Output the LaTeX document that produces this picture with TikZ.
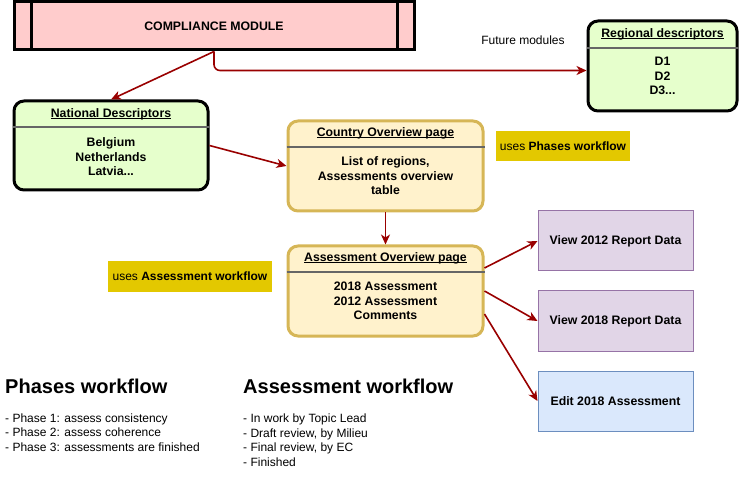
\documentclass[tikz,border=0pt]{standalone}
\usepackage{fontspec}
\setmainfont{Liberation Sans}
\usetikzlibrary{arrows.meta,positioning,calc}

\definecolor{modfill}{HTML}{FFCCCC}
\definecolor{descfill}{HTML}{E6FFCC}
\definecolor{pagefill}{HTML}{FFF2CC}
\definecolor{pagedraw}{HTML}{D6B656}
\definecolor{viewfill}{HTML}{E1D5E7}
\definecolor{viewdraw}{HTML}{9673A6}
\definecolor{editfill}{HTML}{DAE8FC}
\definecolor{editdraw}{HTML}{6C8EBF}
\definecolor{notefill}{HTML}{E3C800}
\definecolor{flowred}{HTML}{990000}
\definecolor{sepgray}{HTML}{666666}

% underline that crosses the descenders, like the drawing tool does
\newcommand{\ttlline}[1]{\setbox0\hbox{#1}\rlap{\rule[-1.6pt]{\wd0}{0.9pt}}\box0}

\tikzset{
  txt/.style={font=\fontsize{12}{14.5}\selectfont},
  bold/.style={font=\fontsize{12.3}{14.5}\selectfont\bfseries,align=center},
  desc/.style={draw,line width=3pt,rounded corners=10pt,fill=descfill},
  page/.style={draw=pagedraw,line width=3pt,rounded corners=10pt,fill=pagefill},
  sep/.style={draw=sepgray,line width=1.5pt},
  note/.style={fill=notefill,txt,inner sep=0pt},
  flow/.style={draw=flowred,line width=1.6pt,-{Stealth[length=10pt,width=9pt,inset=3pt]}},
}

\begin{document}
\begin{tikzpicture}[x=1pt,y=-1pt]
  \useasboundingbox (0,0) rectangle (740,492);

  % top module
  \node[draw,line width=3pt,fill=modfill,minimum width=400pt,minimum height=48pt,bold]
    (cm) at (214,26) {COMPLIANCE MODULE};
  \draw[line width=3pt] ([xshift=19pt]cm.north west) -- ([xshift=19pt]cm.south west);
  \draw[line width=3pt] ([xshift=-18pt]cm.north east) -- ([xshift=-18pt]cm.south east);

  % descriptor boxes
  \node[desc,minimum width=194pt,minimum height=89pt] (nat) at (111,145.5) {};
  \node[bold] (natT) at (111,114) {\ttlline{National Descriptors}};
  \draw[sep] (nat.west |- 0,127) -- (nat.east |- 0,127);
  \node[bold] (natB) at (111,157) {Belgium\\Netherlands\\Latvia...};

  \node[desc,minimum width=149pt,minimum height=90pt] (reg) at (662.5,66) {};
  \node[bold] (regT) at (662.5,34) {\ttlline{Regional descriptors}};
  \draw[sep] (reg.west |- 0,48) -- (reg.east |- 0,48);
  \node[bold] (regB) at (662.5,76) {D1\\D2\\D3...};

  \node[txt] (fut) at (523,40) {Future modules};

  % pages
  \node[page,minimum width=195pt,minimum height=90pt] (cty) at (385.5,166) {};
  \node[bold] (ctyT) at (385.5,133) {\ttlline{Country Overview page}};
  \draw[sep] (cty.west |- 0,147) -- (cty.east |- 0,147);
  \node[bold] (ctyB) at (385.5,176) {List of regions,\\Assessments overview\\table};

  \node[page,minimum width=195pt,minimum height=90pt] (ass) at (385.5,291) {};
  \node[bold] (assT) at (385.5,258) {\ttlline{Assessment Overview page}};
  \draw[sep] (ass.west |- 0,272) -- (ass.east |- 0,272);
  \node[bold] (assB) at (385.5,301) {2018 Assessment\\2012 Assessment\\Comments};

  \node[note,minimum width=134pt,minimum height=30pt] (phn) at (563,146) {uses \textbf{Phases workflow}};
  \node[note,minimum width=164pt,minimum height=31pt] (asn) at (190,276.5) {uses \textbf{Assessment workflow}};

  % target pages
  \node[draw=viewdraw,fill=viewfill,line width=1pt,minimum width=155pt,minimum height=60pt,bold]
    (v12) at (615.5,241) {View 2012 Report Data};
  \node[draw=viewdraw,fill=viewfill,line width=1pt,minimum width=155pt,minimum height=60pt,bold]
    (v18) at (615.5,321) {View 2018 Report Data};
  \node[draw=editdraw,fill=editfill,line width=1pt,minimum width=155pt,minimum height=60pt,bold]
    (ed) at (615.5,401) {Edit 2018 Assessment};

  % connectors
  \draw[flow] (cm.south) -- (nat.north);
  \draw[flow,rounded corners=6pt] (cm.south) |- ([yshift=-4.5pt]reg.west);
  \draw[flow] (nat.east) -- (cty.west);
  \draw[flow] (cty.south) -- (ass.north);
  \draw[flow] ([yshift=23pt]ass.east) -- (v12.west);
  \draw[flow] (ass.east) -- (v18.west);
  \draw[flow] ([yshift=-23pt]ass.east) -- (ed.west);

  % workflows
  \node[anchor=west,font=\fontsize{20}{24}\selectfont\bfseries,inner sep=0pt] (phh) at (5,386) {Phases workflow};
  \node[anchor=west,txt,align=left,inner sep=0pt] (phl) at (5,432.5)
    {- Phase 1: assess consistency\\- Phase 2: assess coherence\\- Phase 3: assessments are finished};
  \node[anchor=west,font=\fontsize{20}{24}\selectfont\bfseries,inner sep=0pt] (ash) at (243,386) {Assessment workflow};
  \node[anchor=west,txt,align=left,inner sep=0pt] (asl) at (243,440)
    {- In work by Topic Lead\\- Draft review, by Milieu\\- Final review, by EC\\- Finished};
\end{tikzpicture}
\end{document}
